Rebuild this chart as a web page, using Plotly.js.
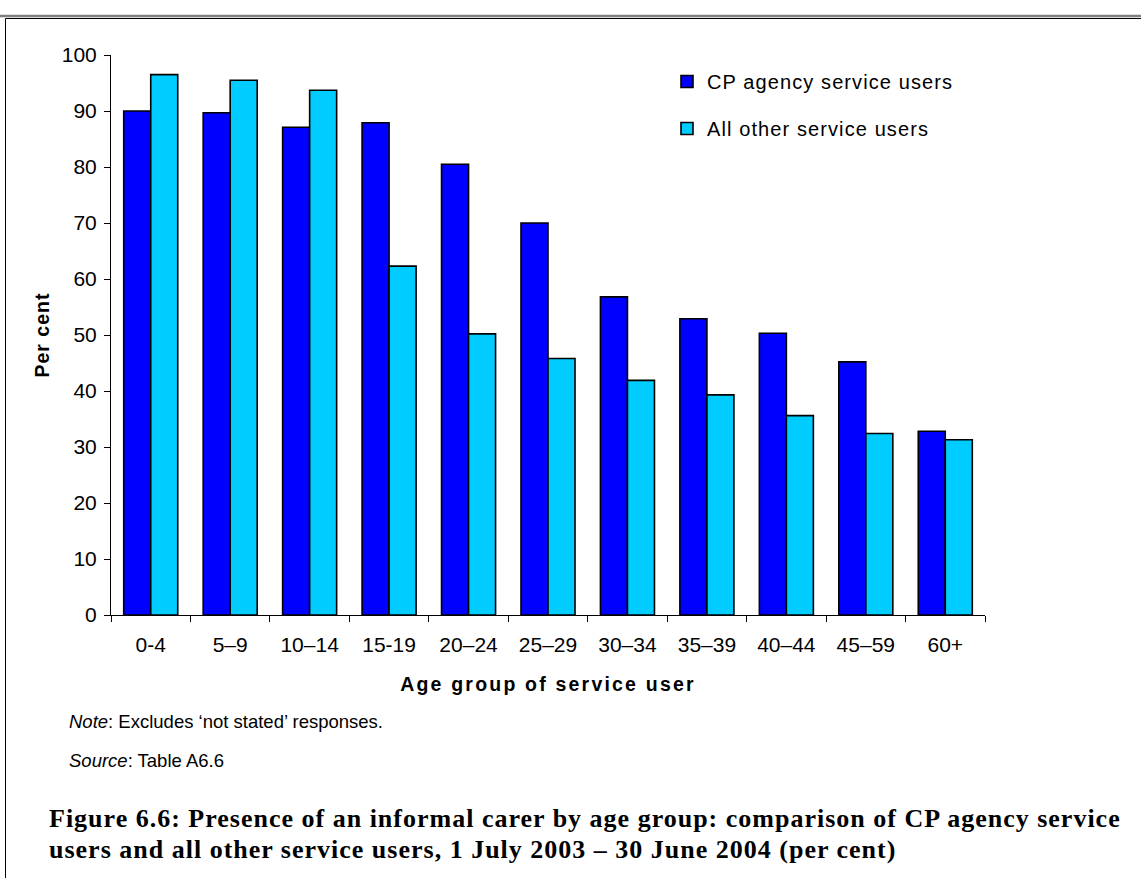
<!DOCTYPE html>
<html>
<head>
<meta charset="utf-8">
<script src="https://cdn.plot.ly/plotly-3.0.1.min.js"></script>
<style>
  html, body { margin: 0; padding: 0; background: #fff; }
  #chart { width: 1141px; height: 878px; }
  .xtitle { letter-spacing: 2.2px; }
  .ytitle { letter-spacing: 1px; }
  .legendtext { letter-spacing: 1.1px; }
</style>
</head>
<body>
<div id="chart"></div>
<script>
const categories = ["0-4", "5\u20139", "10\u201314", "15-19", "20\u201324", "25\u201329", "30\u201334", "35\u201339", "40\u201344", "45\u201359", "60+"];
const cpAgencyValues = [90.0, 89.7, 87.1, 87.9, 80.5, 70.0, 56.8, 52.9, 50.3, 45.2, 32.8];
const allOtherValues = [96.5, 95.5, 93.7, 62.3, 50.2, 45.8, 41.9, 39.3, 35.6, 32.4, 31.3];
const seriesNames = ["CP agency service users", "All other service users"];
const yTickValues = [0, 10, 20, 30, 40, 50, 60, 70, 80, 90, 100];

const sans = "Liberation Sans, Arial, sans-serif";
const serif = "Liberation Serif, Times New Roman, serif";

const L = 111, R = 985, T = 55, B = 615;
const W = 1141, H = 878;
const px = x => (x - L) / (R - L);
const py = y => (B - y) / (B - T);

const traces = [
  {
    type: "bar", x: categories, y: cpAgencyValues, name: seriesNames[0],
    legendgroup: "a",
    marker: { color: "#0000FF", line: { color: "#000000", width: 1.6 } },
    hoverinfo: "x+y"
  },
  {
    type: "bar", x: categories, y: allOtherValues, name: seriesNames[1],
    legendgroup: "b",
    marker: { color: "#00CCFF", line: { color: "#000000", width: 1.6 } },
    hoverinfo: "x+y"
  }
];

const titleStyle = "letter-spacing:1px";

const layout = {
  width: W, height: H,
  margin: { l: L, r: W - R, t: T, b: H - B, pad: 0 },
  paper_bgcolor: "#ffffff", plot_bgcolor: "#ffffff",
  barmode: "group", bargap: 0.32, bargroupgap: 0,
  font: { family: sans, size: 20, color: "#000000" },
  showlegend: true,
  legend: {
    x: px(667), y: py(62), xanchor: "left", yanchor: "top",
    font: { family: sans, size: 20, color: "#000" },
    bgcolor: "rgba(0,0,0,0)", borderwidth: 0,
    traceorder: "grouped", tracegroupgap: 18
  },
  xaxis: {
    type: "category",
    showline: true, linecolor: "#000", linewidth: 1,
    ticks: "outside", tickson: "boundaries", ticklen: 6, tickcolor: "#000", tickwidth: 1,
    showgrid: false, zeroline: false,
    tickfont: { family: sans, size: 21, color: "#000" },
    ticklabelstandoff: 11,
    title: { text: "Age group of service user", font: { family: sans, size: 19.5, color: "#000", weight: "bold" }, standoff: 22 },
    fixedrange: true
  },
  yaxis: {
    range: [0, 100], tickvals: yTickValues,
    showline: true, linecolor: "#000", linewidth: 1,
    ticks: "outside", ticklen: 6, tickcolor: "#000", tickwidth: 1,
    showgrid: false, zeroline: false,
    tickfont: { family: sans, size: 21, color: "#000" },
    ticklabelstandoff: 3,
    title: { text: "Per cent", font: { family: sans, size: 19.5, color: "#000", weight: "bold" }, standoff: 6 },
    fixedrange: true
  },
  annotations: [
    { xref: "paper", yref: "paper", x: px(67), y: py(721), xanchor: "left", yanchor: "middle", showarrow: false,
      text: "<i>Note</i>: Excludes \u2018not stated\u2019 responses.", font: { family: sans, size: 18.5, color: "#000" } },
    { xref: "paper", yref: "paper", x: px(67), y: py(760), xanchor: "left", yanchor: "middle", showarrow: false,
      text: "<i>Source</i>: Table A6.6", font: { family: sans, size: 18.5, color: "#000" } },
    { xref: "paper", yref: "paper", x: px(47), y: py(818), xanchor: "left", yanchor: "middle", showarrow: false,
      text: "<span style='" + titleStyle + "'><b>Figure 6.6: Presence of an informal carer by age group: comparison of CP agency service</b></span>", font: { family: serif, size: 26, color: "#000" } },
    { xref: "paper", yref: "paper", x: px(47), y: py(849), xanchor: "left", yanchor: "middle", showarrow: false,
      text: "<span style='" + titleStyle + "'><b>users and all other service users, 1 July 2003 \u2013 30 June 2004 (per cent)</b></span>", font: { family: serif, size: 26, color: "#000" } }
  ],
  shapes: [
    { type: "line", xref: "paper", yref: "paper", x0: px(0), x1: px(W + 5), y0: py(16), y1: py(16), line: { color: "#808080", width: 2.5 } },
    { type: "line", xref: "paper", yref: "paper", x0: px(5.5), x1: px(W + 5), y0: py(18.5), y1: py(18.5), line: { color: "#000000", width: 1 } },
    { type: "line", xref: "paper", yref: "paper", x0: px(5.5), x1: px(5.5), y0: py(18.5), y1: py(H + 5), line: { color: "#000000", width: 1 } }
  ]
};

Plotly.newPlot("chart", traces, layout, { displayModeBar: false, staticPlot: true });
</script>
</body>
</html>
